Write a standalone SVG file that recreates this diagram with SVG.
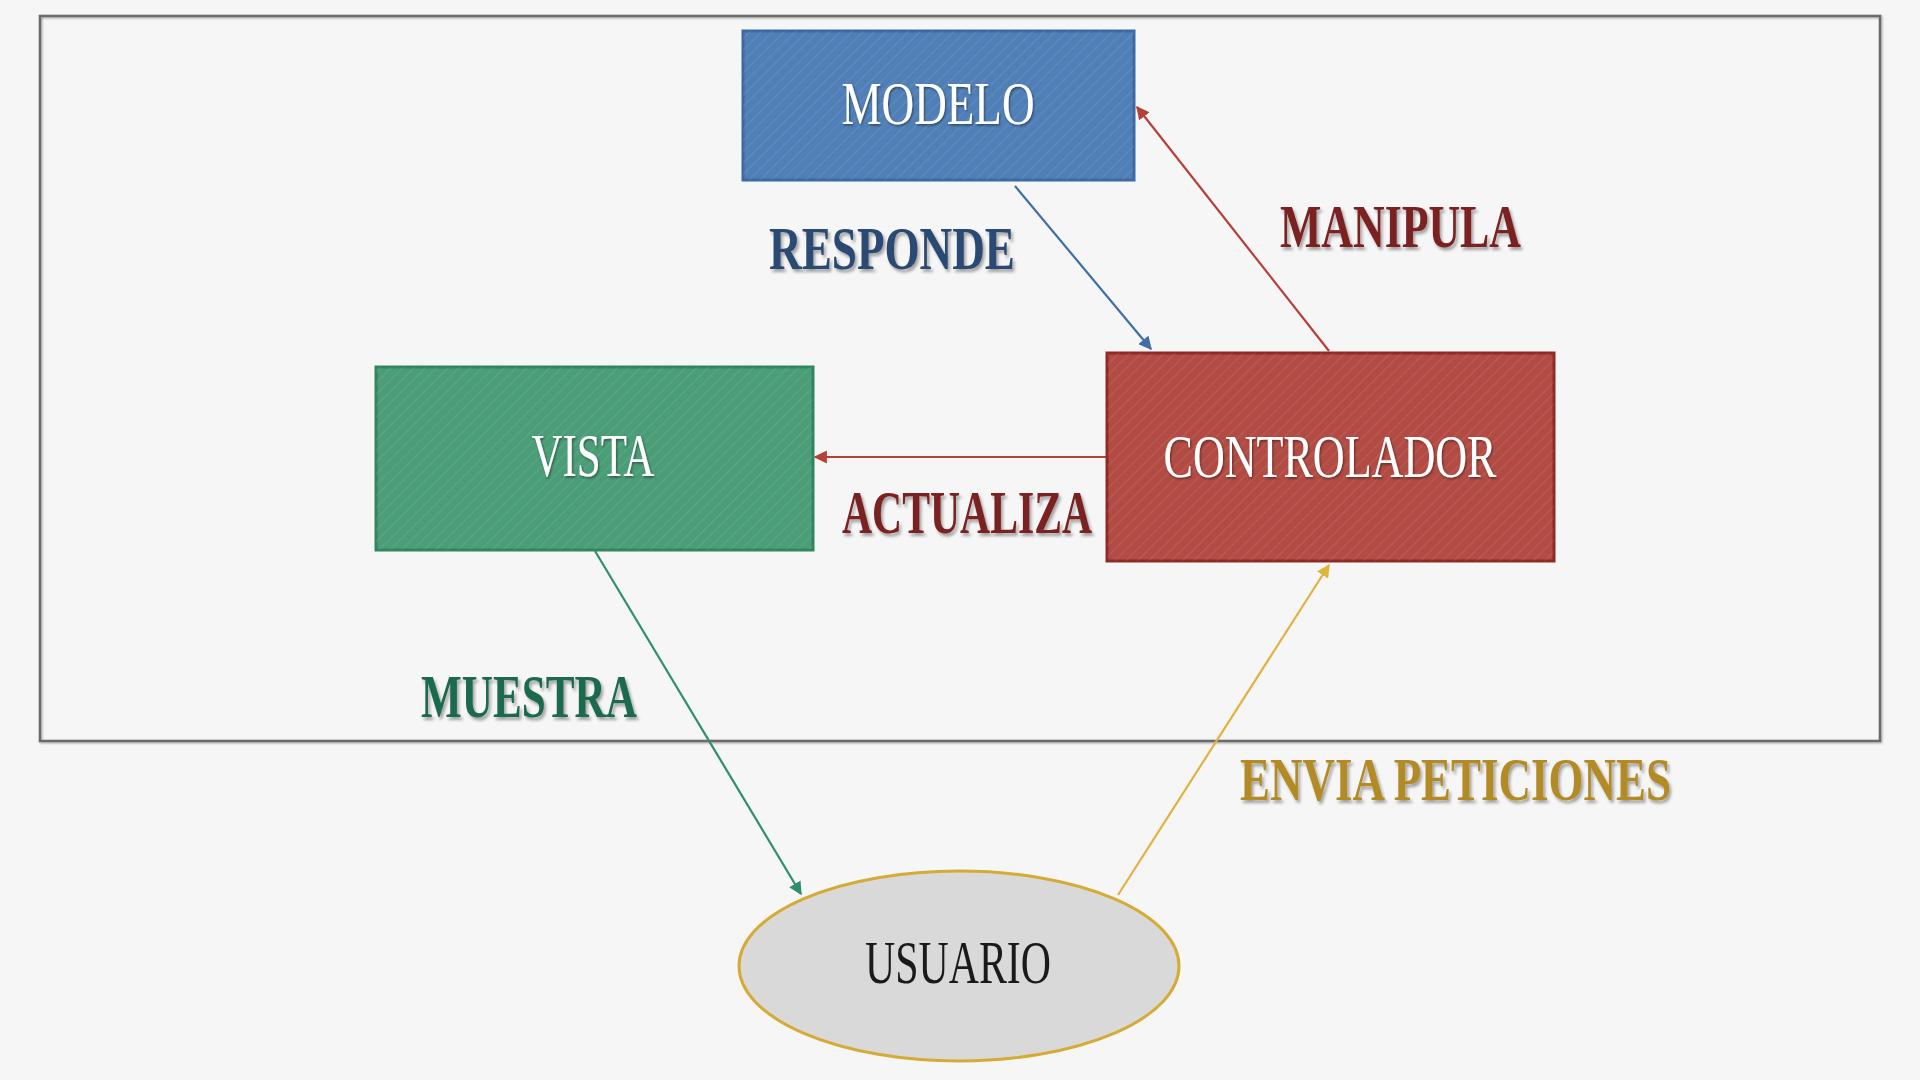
<svg xmlns="http://www.w3.org/2000/svg" width="1920" height="1080" viewBox="0 0 1920 1080">
<style>
.box-text{font-family:"Liberation Serif","DejaVu Serif",serif;font-size:62px;fill:#ffffff;text-anchor:middle;filter:url(#ts)}
.lbl{font-family:"Liberation Serif","DejaVu Serif",serif;font-size:62px;font-weight:bold;filter:url(#ls)}
.conn{fill:none;stroke-width:2.2}
</style>
<defs>
<pattern id="stripes" width="8" height="8" patternUnits="userSpaceOnUse" patternTransform="rotate(45)">
<rect width="8" height="8" fill="none"/>
<line x1="0" y1="0" x2="0" y2="8" stroke="#ffffff" stroke-opacity="0.08" stroke-width="3"/>
</pattern>
<filter id="ts" x="-10%" y="-10%" width="120%" height="130%">
<feDropShadow dx="1" dy="1.5" stdDeviation="0.8" flood-color="#000" flood-opacity="0.45"/>
</filter>
<filter id="ls" x="-10%" y="-10%" width="120%" height="130%">
<feDropShadow dx="2" dy="3" stdDeviation="1.5" flood-color="#000" flood-opacity="0.35"/>
</filter>
<filter id="bs" x="-5%" y="-5%" width="110%" height="110%">
<feDropShadow dx="1" dy="1" stdDeviation="1" flood-color="#000" flood-opacity="0.35"/>
</filter>
<marker id="ah-blue" viewBox="0 0 10 10" refX="9" refY="5" markerWidth="6" markerHeight="6" orient="auto"><path d="M0,0 L10,5 L0,10 z" fill="#3f6fa6"/></marker>
<marker id="ah-red" viewBox="0 0 10 10" refX="9" refY="5" markerWidth="6" markerHeight="6" orient="auto"><path d="M0,0 L10,5 L0,10 z" fill="#b5403a"/></marker>
<marker id="ah-green" viewBox="0 0 10 10" refX="9" refY="5" markerWidth="6" markerHeight="6" orient="auto"><path d="M0,0 L10,5 L0,10 z" fill="#2f8f6c"/></marker>
<marker id="ah-gold" viewBox="0 0 10 10" refX="9" refY="5" markerWidth="6" markerHeight="6" orient="auto"><path d="M0,0 L10,5 L0,10 z" fill="#e0b240"/></marker>
</defs>
<rect width="1920" height="1080" fill="#f6f6f6"/>
<rect id="frame" x="40" y="16" width="1840" height="725" fill="none" stroke="#6a6a6a" stroke-width="2.5" filter="url(#bs)"/>

<g id="connectors">
<line class="conn" x1="1015" y1="186" x2="1151" y2="349" stroke="#3f6fa6" marker-end="url(#ah-blue)"/>
<line class="conn" x1="1329" y1="351" x2="1137" y2="107" stroke="#b5403a" marker-end="url(#ah-red)"/>
<line class="conn" x1="1107" y1="457" x2="815" y2="457" stroke="#b5403a" stroke-width="3" marker-end="url(#ah-red)"/>
<line class="conn" x1="595" y1="551" x2="801" y2="894" stroke="#2f8f6c" marker-end="url(#ah-green)"/>
<line class="conn" x1="1118" y1="895" x2="1329" y2="565" stroke="#e0b240" marker-end="url(#ah-gold)"/>
</g>

<g id="modelo">
<rect x="743" y="31" width="391" height="149" fill="#4f7fb6" stroke="#3b6aa3" stroke-width="3"/>
<rect x="743" y="31" width="391" height="149" fill="url(#stripes)"/>
<text class="box-text" x="938" y="124" textLength="193" lengthAdjust="spacingAndGlyphs">MODELO</text>
</g>

<g id="vista">
<rect x="376" y="367" width="437" height="183" fill="#4a9d77" stroke="#2f865e" stroke-width="3"/>
<rect x="376" y="367" width="437" height="183" fill="url(#stripes)"/>
<text class="box-text" x="593" y="476" textLength="123" lengthAdjust="spacingAndGlyphs">VISTA</text>
</g>

<g id="controlador">
<rect x="1107" y="353" width="447" height="208" fill="#b24b43" stroke="#8e2a26" stroke-width="3"/>
<rect x="1107" y="353" width="447" height="208" fill="url(#stripes)"/>
<text class="box-text" x="1330" y="477" textLength="333" lengthAdjust="spacingAndGlyphs">CONTROLADOR</text>
</g>

<g id="usuario">
<ellipse cx="959" cy="966" rx="220" ry="95" fill="#d9d9d9" stroke="#d6ab35" stroke-width="3"/>
<text x="958" y="983" font-family="'Liberation Serif','DejaVu Serif',serif" font-size="62" fill="#1a1a1a" text-anchor="middle" textLength="186" lengthAdjust="spacingAndGlyphs">USUARIO</text>
</g>

<g id="labels">
<text class="lbl" x="769" y="269" fill="#2b4a73" textLength="246" lengthAdjust="spacingAndGlyphs">RESPONDE</text>
<text class="lbl" x="1280" y="247" fill="#7a2020" textLength="241" lengthAdjust="spacingAndGlyphs">MANIPULA</text>
<text class="lbl" x="842" y="533" fill="#7a2020" textLength="250" lengthAdjust="spacingAndGlyphs">ACTUALIZA</text>
<text class="lbl" x="421" y="717" fill="#1f6b4e" textLength="216" lengthAdjust="spacingAndGlyphs">MUESTRA</text>
<text class="lbl" x="1240" y="800" fill="#b38b25" textLength="431" lengthAdjust="spacingAndGlyphs">ENVIA PETICIONES</text>
</g>
</svg>
